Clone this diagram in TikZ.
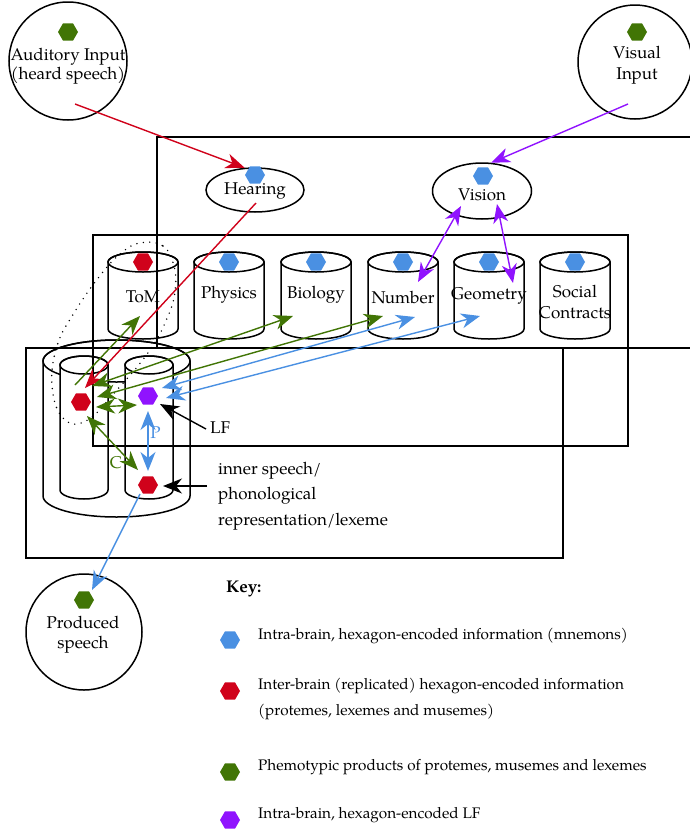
\documentclass[tikz,border=0pt]{standalone}
\usepackage{fontspec}
\setmainfont{TeX Gyre Pagella}
\usetikzlibrary{arrows.meta,shapes.geometric}

\definecolor{hred}{RGB}{208,2,27}
\definecolor{hgreen}{RGB}{65,117,5}
\definecolor{hblue}{RGB}{74,144,226}
\definecolor{hpurple}{RGB}{144,19,254}

% cylinder: centre x, top-ellipse y, bottom-ellipse y, x radius, y radius
\newcommand{\drawcyl}[5]{%
  \filldraw[outline, fill=white] (#1-#4,#2) -- (#1-#4,#3)
    arc[start angle=180, end angle=0, x radius=#4, y radius=#5]
    -- (#1+#4,#2)
    arc[start angle=0, end angle=-180, x radius=#4, y radius=#5] -- cycle;
  \draw[outline] (#1,#2) ellipse [x radius=#4, y radius=#5];
}

\tikzset{
  outline/.style={line width=1.5pt, black},
  frame/.style={line width=1.4pt, black},
  hexa/.style={regular polygon, regular polygon sides=6, minimum size=20pt,
    inner sep=0pt, draw=none},
  lbl/.style={font=\fontsize{17}{20}\selectfont, inner sep=0pt, align=center},
  keytxt/.style={font=\fontsize{15.3}{26}\selectfont, inner sep=0pt,
    anchor=west, align=left},
  conn/.style={line width=1.4pt,
    -{Stealth[length=19pt, width=15pt, inset=6pt]}},
  both/.style={line width=1.4pt,
    {Stealth[length=19pt, width=15pt, inset=6pt]}-{Stealth[length=19pt, width=15pt, inset=6pt]}},
}

\begin{document}
\begin{tikzpicture}[x=1pt, y=-1pt]
\useasboundingbox (0,0) rectangle (689,830);

% ---------- input / output circles and sensory ellipses ----------
\node[draw, outline, circle, minimum size=118pt, inner sep=0pt] (audIn) at (68,61) {};
\node[draw, outline, circle, minimum size=114pt, inner sep=0pt] (visIn) at (635,62) {};
\node[draw, outline, circle, minimum size=116pt, inner sep=0pt] (prodOut) at (84,632) {};
\node[draw, outline, ellipse, minimum width=98pt, minimum height=44pt, inner sep=0pt] (hearing) at (255,190) {};
\node[draw, outline, ellipse, minimum width=99pt, minimum height=56pt, inner sep=0pt] (vision) at (482,191) {};

\node[lbl, font=\fontsize{17}{19}\selectfont] (audTxt) at (68,66) {Auditory Input\\(heard speech)};
\node[lbl, font=\fontsize{17}{21}\selectfont] (visTxt) at (637,65.5) {Visual\\Input};
\node[lbl] (prodTxt) at (83,635) {Produced\\speech};
\node[lbl] (hearTxt) at (255,191) {Hearing};
\node[lbl] (visionTxt) at (482,195) {Vision};

% ---------- module cylinders ----------
\drawcyl{143}{262}{329}{35}{10}
\drawcyl{229}{262}{329}{35}{10}
\drawcyl{316}{262}{329}{35}{10}
\drawcyl{403}{262}{329}{35}{10}
\drawcyl{489}{262}{329}{35}{10}
\drawcyl{575}{262}{329}{35}{10}

\node[lbl] (tomTxt) at (143,297) {ToM};
\node[lbl] (physTxt) at (229,295) {Physics};
\node[lbl] (bioTxt) at (316,295) {Biology};
\node[lbl] (numTxt) at (403,297) {Number};
\node[lbl] (geoTxt) at (489,296) {Geometry};
\node[lbl, font=\fontsize{17}{21}\selectfont] (socTxt) at (575,301.5) {Social\\Contracts};

% ---------- language cylinder (outer with two inner tubes) ----------
\drawcyl{116.5}{361}{496}{73.5}{21}
\drawcyl{84}{365}{490}{24}{9}
\drawcyl{149}{365}{490}{24}{9}

% ---------- frames ----------
\draw[frame] (157,137) rectangle (700,348);
\draw[frame] (93,235) rectangle (628,446);
\draw[frame] (26,348) rectangle (563,558);

% dotted grouping round ToM and the left tube
\draw[line width=1.6pt, dash pattern=on 0pt off 6.5pt, line cap=round]
  plot[smooth cycle, tension=0.7] coordinates {
    (140,243) (163,246) (174,266) (175,291) (168,316) (150,350)
    (116,391) (86,421) (63,418) (52,386) (57,346) (74,313) (99,277) (120,254)};

% ---------- hexagons ----------
\node[hexa, fill=hgreen] (hexAud) at (68,32) {};
\node[hexa, fill=hgreen] (hexVis) at (637,32) {};
\node[hexa, fill=hblue] (hexHear) at (255,175) {};
\node[hexa, fill=hblue] (hexVision) at (483,176) {};
\node[hexa, fill=hred] (hexToM) at (143,262) {};
\node[hexa, fill=hblue] (hexPhys) at (229,262) {};
\node[hexa, fill=hblue] (hexBio) at (316,262) {};
\node[hexa, fill=hblue] (hexNum) at (403,262) {};
\node[hexa, fill=hblue] (hexGeo) at (489,262) {};
\node[hexa, fill=hblue] (hexSoc) at (575,262) {};
\node[hexa, fill=hred] (hexL) at (81,402) {};
\node[hexa, fill=hpurple] (hexLF) at (148,396) {};
\node[hexa, fill=hred] (hexLex) at (148,485) {};
\node[hexa, fill=hgreen] (hexProd) at (84,600) {};

% ---------- connector end points ----------
\coordinate (audTail) at (75,104);
\coordinate (visTail) at (628,104);
\coordinate (hearTail) at (256,203);
\coordinate (visionNumEnd) at (461,206);
\coordinate (visionGeoEnd) at (497,204);
\coordinate (numTop) at (418,282);
\coordinate (geoTop) at (513,283);
\coordinate (tomIn) at (140,316);
\coordinate (bioIn) at (293,316);
\coordinate (numInG) at (383,316);
\coordinate (numInB) at (415,317);
\coordinate (geoIn) at (480,316);
\coordinate (lRedIn) at (85,388);
\coordinate (lTomOut) at (75,385);
\coordinate (lBio) at (92,386);
\coordinate (lNum) at (97,397);
\coordinate (lLF) at (96,407);
\coordinate (lfL) at (137,405);
\coordinate (lC) at (87,416);
\coordinate (lexC) at (138,470);
\coordinate (lfB1) at (162,388);
\coordinate (lfB2) at (166,398);
\coordinate (lfP) at (148,411);
\coordinate (lexP) at (148,471);
\coordinate (lfTip) at (160,404);
\coordinate (lexTip) at (163,486);
\coordinate (lexOut) at (140,494);
\coordinate (prodTip) at (92,590);

% ---------- connectors ----------
\draw[conn, hred] (audTail) -- (hearing.115);
\draw[conn, hpurple] (visTail) -- (vision.72);
\draw[conn, hred] (hearTail) -- (lRedIn);
\draw[both, hpurple] (visionNumEnd) -- (numTop);
\draw[both, hpurple] (visionGeoEnd) -- (geoTop);

\draw[conn, hgreen] (lTomOut) -- (tomIn);
\draw[both, hgreen] (lBio) -- (bioIn);
\draw[both, hgreen] (lNum) -- (numInG);
\draw[both, hgreen] (lLF) -- (lfL);
\draw[both, hgreen] (lC) -- (lexC);

\draw[both, hblue] (lfB1) -- (numInB);
\draw[both, hblue] (lfB2) -- (geoIn);
\draw[both, hblue] (lfP) -- (lexP);
\draw[conn, hblue] (lexOut) -- (prodTip);

% ---------- labels on the language cylinder ----------
\node[lbl, text=hgreen] (cLbl) at (116,463) {C};
\node[lbl, text=hblue] (pLbl) at (155.5,433) {P};
\node[lbl, anchor=west] (lfLbl) at (210,428) {LF};
\node[lbl, anchor=west, align=left, font=\fontsize{17}{25.5}\selectfont] (lexLbl)
  at (218,496) {inner speech/\\phonological\\representation/lexeme};
\draw[conn, black] (lfLbl.west) ++(-4,1) -- (lfTip);
\draw[conn, black] (lexLbl.west) ++(-11,-10) -- (lexTip);

% ---------- key ----------
\node[keytxt, font=\fontsize{17}{26}\selectfont\bfseries] (keyHead) at (226,589) {Key:};
\node[hexa, fill=hblue] (keyBlue) at (230,640) {};
\node[hexa, fill=hred] (keyRed) at (230,691) {};
\node[hexa, fill=hgreen] (keyGreen) at (230,772) {};
\node[hexa, fill=hpurple] (keyPurple) at (230,820) {};
\node[keytxt] (keyBlueTxt) at (258,636) {Intra-brain, hexagon-encoded information (mnemons)};
\node[keytxt] (keyRedTxt) at (258,699) {Inter-brain (replicated) hexagon-encoded information\\(protemes, lexemes and musemes)};
\node[keytxt] (keyGreenTxt) at (258,767) {Phemotypic products of protemes, musemes and lexemes};
\node[keytxt] (keyPurpleTxt) at (258,815) {Intra-brain, hexagon-encoded LF};
\end{tikzpicture}
\end{document}
